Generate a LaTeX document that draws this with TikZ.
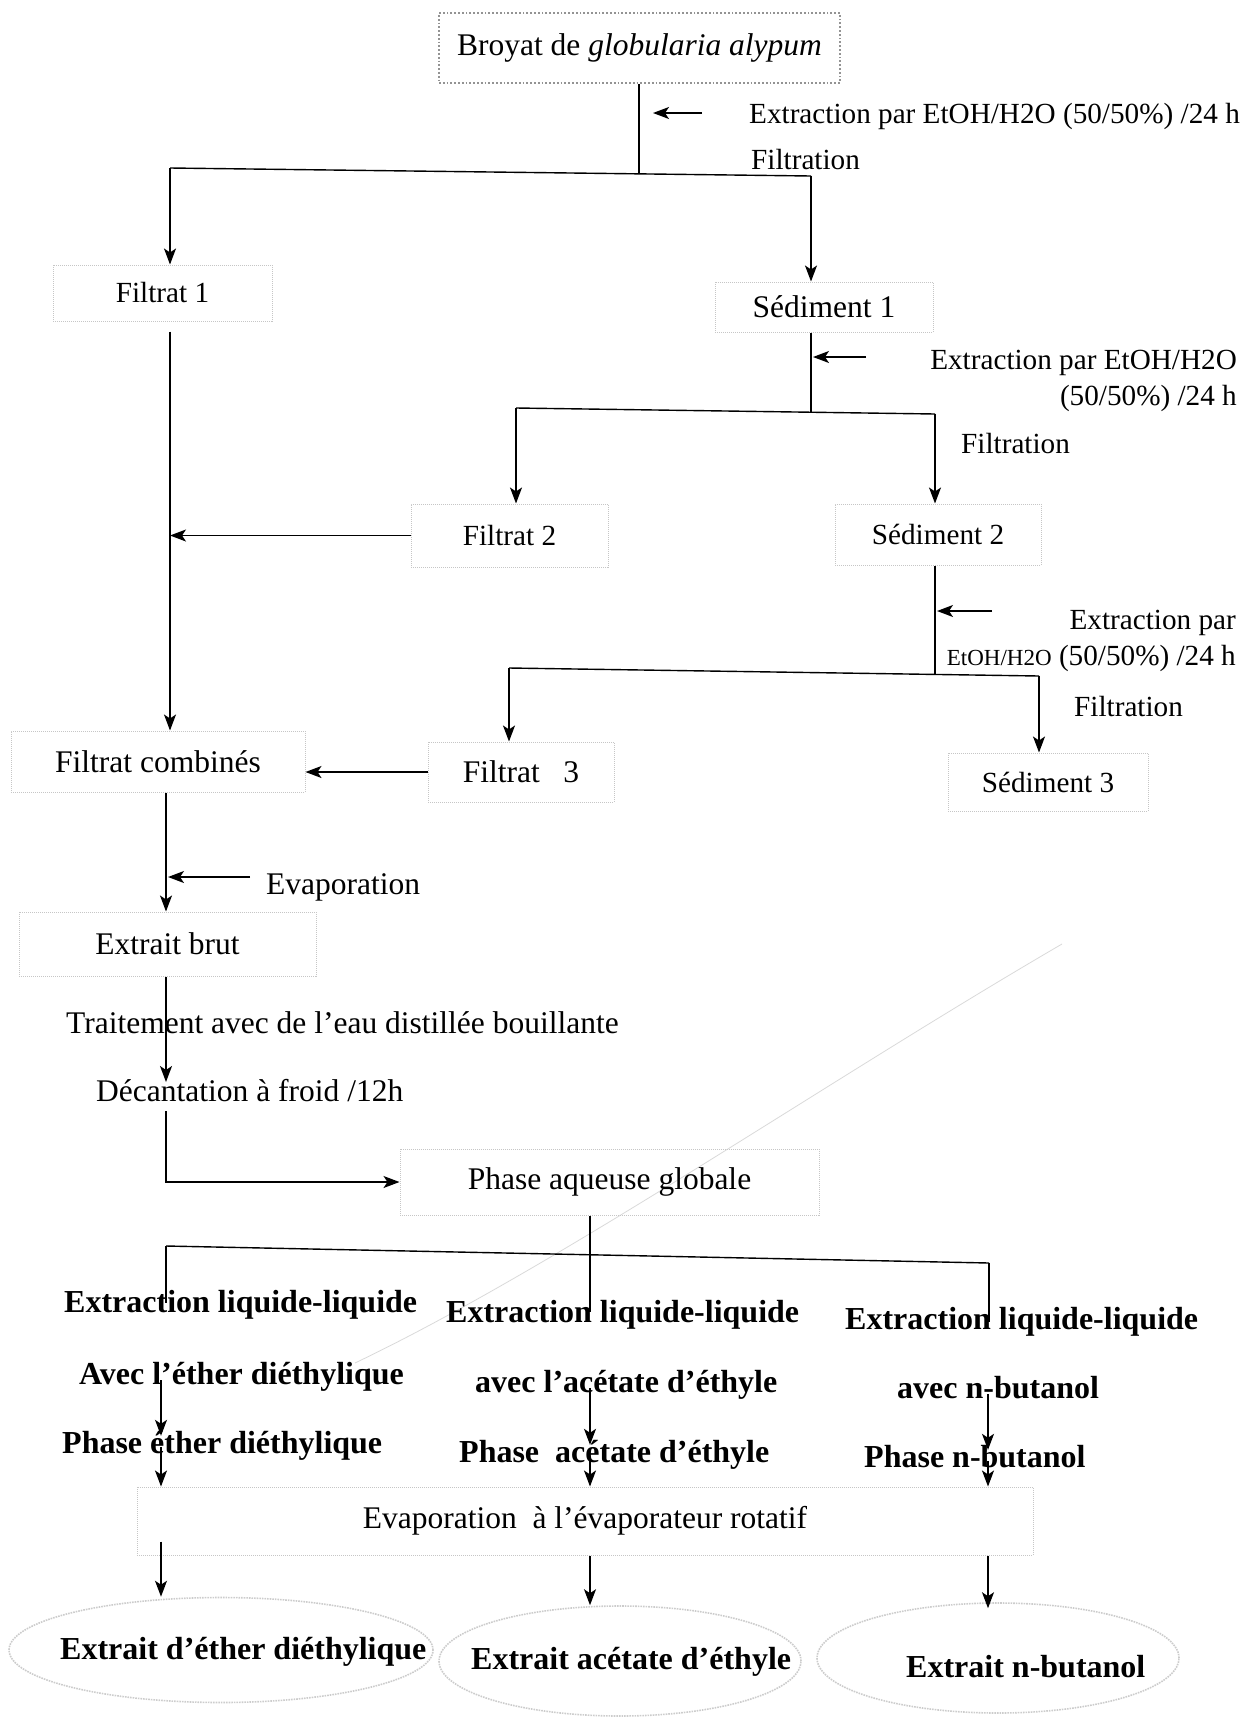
\documentclass[tikz,border=0pt]{standalone}
\usepackage{fontspec}
\setmainfont{Liberation Serif}
\usetikzlibrary{arrows.meta,shapes.geometric,calc}
\begin{document}
\begin{tikzpicture}[x=1pt,y=-1pt,
  every node/.style={font=\fontsize{31.5}{36}\selectfont},
  box/.style={draw=gray!45, densely dotted, line width=1pt, inner sep=0pt},
  topbox/.style={draw=gray!85, dotted, line width=1.8pt, inner sep=0pt},
  lbl/.style={inner sep=0pt, text height=0.7em, text depth=0pt, anchor=base west},
  small/.style={font=\fontsize{29.2}{36}\selectfont},
  bl/.style={inner sep=0pt, text height=0.7em, text depth=0pt, anchor=base west, font=\fontsize{32}{36}\selectfont\bfseries},
  ln/.style={line width=1.4pt},
  arr/.style={line width=1.4pt, -{Stealth[length=16pt,width=12pt,inset=4pt]}},
  ell/.style={draw=gray!40, densely dotted, line width=1.6pt, ellipse, inner sep=0pt},
  faint/.style={draw=gray!30, line width=0.8pt}
]
\useasboundingbox (0,0) rectangle (1252,1719);

% faint scan line
\draw[faint] (1062,944) .. controls (820,1085) and (560,1265) .. (355,1363);

% boxes
\node[topbox, minimum width=401pt, minimum height=70pt] (top) at (639.5,48) {Broyat de \textit{globularia alypum}};
\node[box, small, minimum width=219pt, minimum height=56pt] (f1) at (162.5,293) {Filtrat 1};
\node[box, minimum width=218pt, minimum height=50pt] (s1) at (824,307) {Sédiment 1};
\node[box, small, minimum width=197pt, minimum height=63pt] (f2) at (509.5,535.5) {Filtrat 2};
\node[box, small, minimum width=206pt, minimum height=61pt] (s2) at (938,534.5) {Sédiment 2};
\node[box, minimum width=294pt, minimum height=61pt] (fc) at (158,761.5) {Filtrat combinés};
\node[box, minimum width=186pt, minimum height=60pt] (f3) at (521,772) {Filtrat\ \ \ 3};
\node[box, small, minimum width=200pt, minimum height=58pt] (s3) at (1048,782) {Sédiment 3};
\node[box, minimum width=297pt, minimum height=64pt] (eb) at (167.5,944) {Extrait brut};
\node[box, minimum width=419pt, minimum height=66pt] (pa) at (609.5,1182) {Phase aqueuse globale};
\node[box, minimum width=896pt, minimum height=68pt] (ev) at (585,1521) {Evaporation\ \ à l’évaporateur rotatif};

% ellipses
\node[ell, minimum width=424pt, minimum height=105pt] (e1) at (221,1650) {};
\node[ell, minimum width=362pt, minimum height=110pt] (e2) at (620,1661) {};
\node[ell, minimum width=362pt, minimum height=110pt] (e3) at (998,1658) {};
\node[bl] (t1) at (60,1659) {Extrait d’éther diéthylique};
\node[bl] (t2) at (471,1669) {Extrait acétate d’éthyle};
\node[bl] (t3) at (906,1677) {Extrait n-butanol};

% labels
\node[lbl, small] (l1) at (749,123) {Extraction par EtOH/H2O (50/50\%) /24 h};
\node[lbl, small] (l2) at (751,169) {Filtration};
\node[inner sep=0pt, small, anchor=east, align=right] (l3) at (1237,381) {Extraction par EtOH/H2O\\(50/50\%) /24 h};
\node[lbl, small] (l4) at (961,453) {Filtration};
\node[inner sep=0pt, small, anchor=east, align=right] (l5) at (1236,641) {Extraction par\\{\fontsize{23}{30}\selectfont EtOH/H2O} (50/50\%) /24 h};
\node[lbl, small] (l6) at (1074,716) {Filtration};
\node[lbl] (l7) at (266,894) {Evaporation};
\node[lbl] (l8) at (66,1033) {Traitement avec de l’eau distillée bouillante};
\node[lbl] (l9) at (96,1101) {Décantation à froid /12h};

% bold texts
\node[bl] (ex1) at (64,1312) {Extraction liquide-liquide};
\node[bl] (ex2) at (446,1322) {Extraction liquide-liquide};
\node[bl] (ex3) at (845,1329) {Extraction liquide-liquide};
\node[bl] (av1) at (79,1384) {Avec l’éther diéthylique};
\node[bl] (av2) at (475,1392) {avec l’acétate d’éthyle};
\node[bl] (av3) at (897,1398) {avec n-butanol};
\node[bl] (ph1) at (62,1453) {Phase éther diéthylique};
\node[bl] (ph2) at (459,1462) {Phase\ \ acétate d’éthyle};
\node[bl] (ph3) at (864,1467) {Phase n-butanol};

% coordinates (split lines follow the slight tilt of the scan)
\coordinate (j1) at (639,174);
\coordinate (j1l) at (170,168);
\coordinate (j1r) at (811,176);
\coordinate (xL) at (170,0);
\coordinate (a1s) at (702,113);
\coordinate (a1e) at (653,113);
\coordinate (j2) at (811,412);
\coordinate (j2l) at (516,408);
\coordinate (j2r) at (935,414);
\coordinate (a2s) at (866,357);
\coordinate (a2e) at (813,357);
\coordinate (j3) at (935,674);
\coordinate (j3l) at (509,668);
\coordinate (j3r) at (1039,676);
\coordinate (a3s) at (992,611);
\coordinate (a3e) at (937,611);
\coordinate (xC) at (166,0);
\coordinate (a4s) at (250,877);
\coordinate (a4e) at (168,877);
\coordinate (d1) at (166,1082);
\coordinate (d2) at (166,1111);
\coordinate (xM) at (590,0);
\coordinate (sL) at (166,1246);
\coordinate (sR) at (989,1263);
\coordinate (cL) at (161,0);
\coordinate (cM) at (590,0);
\coordinate (cR) at (988,0);

% top split
\draw[ln] (top.south -| j1) -- (j1);
\draw[arr] (a1s) -- (a1e);
\draw[ln] (j1l) -- (j1r);
\draw[arr] (j1l) -- (f1.north -| j1l);
\draw[arr] (j1r) -- (s1.north -| j1r);

% second split
\draw[ln] (s1.south -| j2) -- (j2);
\draw[arr] (a2s) -- (a2e);
\draw[ln] (j2l) -- (j2r);
\draw[arr] (j2l) -- (f2.north -| j2l);
\draw[arr] (j2r) -- (s2.north -| j2r);

% third split
\draw[ln] (s2.south -| j3) -- (j3);
\draw[arr] (a3s) -- (a3e);
\draw[ln] (j3l) -- (j3r);
\draw[arr] (j3l) -- (f3.north -| j3l);
\draw[arr] (j3r) -- (s3.north -| j3r);

% filtrates to combined
\draw[arr] ($(f1.south -| xL)+(0,10)$) -- (fc.north -| xL);
\draw[arr] (f2.west) -- (f2.west -| xL);
\draw[arr] (f3.west) -- (f3.west -| fc.east);

% evaporation
\draw[arr] (fc.south -| xC) -- (eb.north -| xC);
\draw[arr] (a4s) -- (a4e);

% treatment
\draw[arr] (eb.south -| xC) -- (d1);
\draw[arr] (d2) |- (pa.west);

% liquid-liquid split
\draw[ln, shorten >=3pt] (pa.south -| xM) -- (ex2.north -| xM);
\draw[ln] (sL) -- (sR);
\draw[ln, shorten >=2pt] (sL) -- (ex1.north -| sL);
\draw[ln, shorten >=0pt] (sR) -- (ex3.north -| sR);

% columns
\draw[arr, shorten <=-4pt, shorten >=10pt] (av1.south -| cL) -- (ph1.north -| cL);
\draw[arr, shorten <=-6pt] (ph1.south -| cL) -- (ev.north -| cL);
\draw[arr, shorten <=-14pt] (ev.south -| cL) -- (e1.north -| cL);
\draw[arr, shorten <=-4pt, shorten >=10pt] (av2.south -| cM) -- (ph2.north -| cM);
\draw[arr, shorten <=-6pt] (ph2.south -| cM) -- (ev.north -| cM);
\draw[arr] (ev.south -| cM) -- (e2.north -| cM);
\draw[arr, shorten <=-4pt, shorten >=10pt] (av3.south -| cR) -- (ph3.north -| cR);
\draw[arr, shorten <=-6pt] (ph3.south -| cR) -- (ev.north -| cR);
\draw[arr, shorten >=-6pt] (ev.south -| cR) -- (e3.north -| cR);
\end{tikzpicture}
\end{document}
